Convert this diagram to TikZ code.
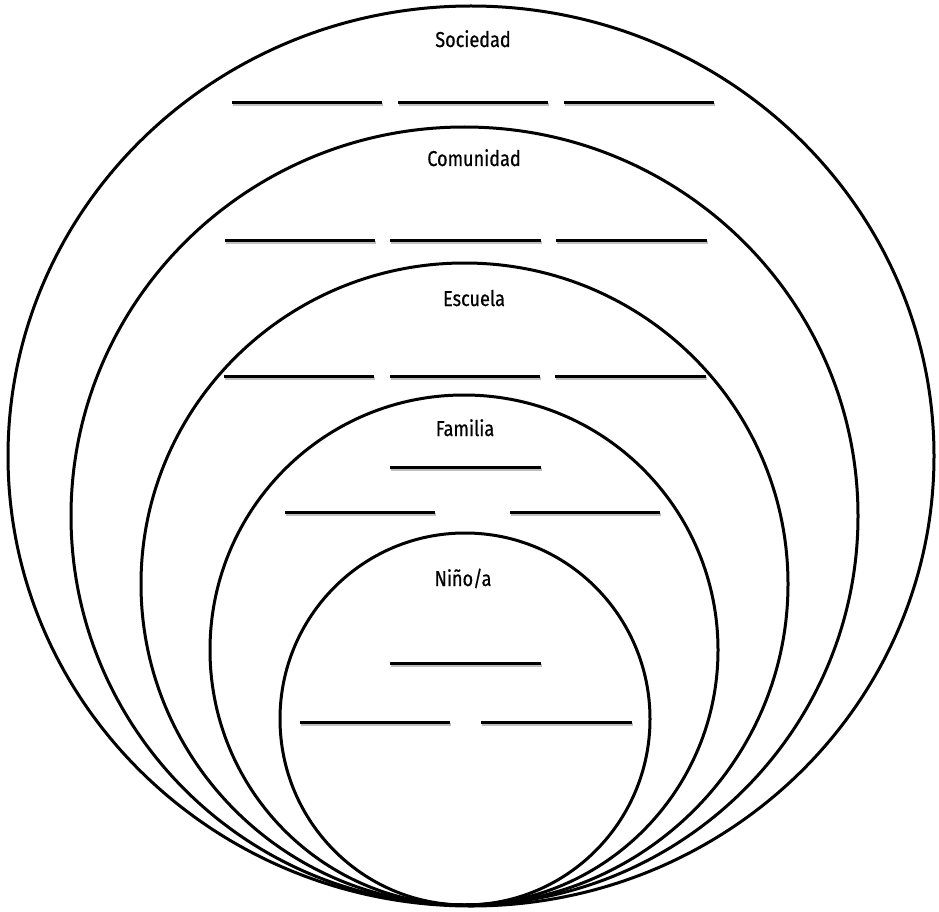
\documentclass[tikz,border=0pt]{standalone}
\usepackage{fontspec}
\setmainfont{Fira Sans}
\newfontfamily\labelfont[FakeStretch=0.84,FakeBold=0.6]{Fira Sans}
\begin{document}
\begin{tikzpicture}[x=1pt,y=-1pt,
  ring/.style={draw=black,line width=3pt},
  blank/.style={line width=3pt,draw=black},
  blankshadow/.style={line width=3pt,draw=black!25},
  lbl/.style={font=\labelfont\fontsize{21.5}{24}\selectfont,inner sep=0pt,anchor=base}]
\useasboundingbox[fill=white] (0,0) rectangle (939,912);
% nested circles
\draw[ring] (471,456) ellipse [x radius=463, y radius=450];
\draw[ring] (464.5,516) ellipse [x radius=393.5, y radius=389];
\draw[ring] (464.5,584) ellipse [x radius=323.5, y radius=321];
\draw[ring] (464,650) ellipse [x radius=254, y radius=255];
\draw[ring] (465,719) ellipse [x radius=185, y radius=186];
% labels
\node[lbl] (soc) at (473,47) {Sociedad};
\node[lbl] (com) at (474,166) {Comunidad};
\node[lbl] (esc) at (474,306) {Escuela};
\node[lbl] (fam) at (465,436) {Familia};
\node[lbl] (nin) at (463,586) {Niño/a};
% blanks
\foreach \a/\b/\y in {232/382/103, 398/548/103, 564/714/103,
                      225/375/240, 390/541/240, 556/707/240,
                      224/374/376, 390/540/376, 555/706/376,
                      390/541/467, 285/435/512, 510/660/512,
                      390/541/663, 300/450/722, 481/632/722}{
  \draw[blankshadow] (\a+1,\y+2) -- (\b+1,\y+2);
  \draw[blank] (\a,\y) -- (\b,\y);
}
\end{tikzpicture}
\end{document}
